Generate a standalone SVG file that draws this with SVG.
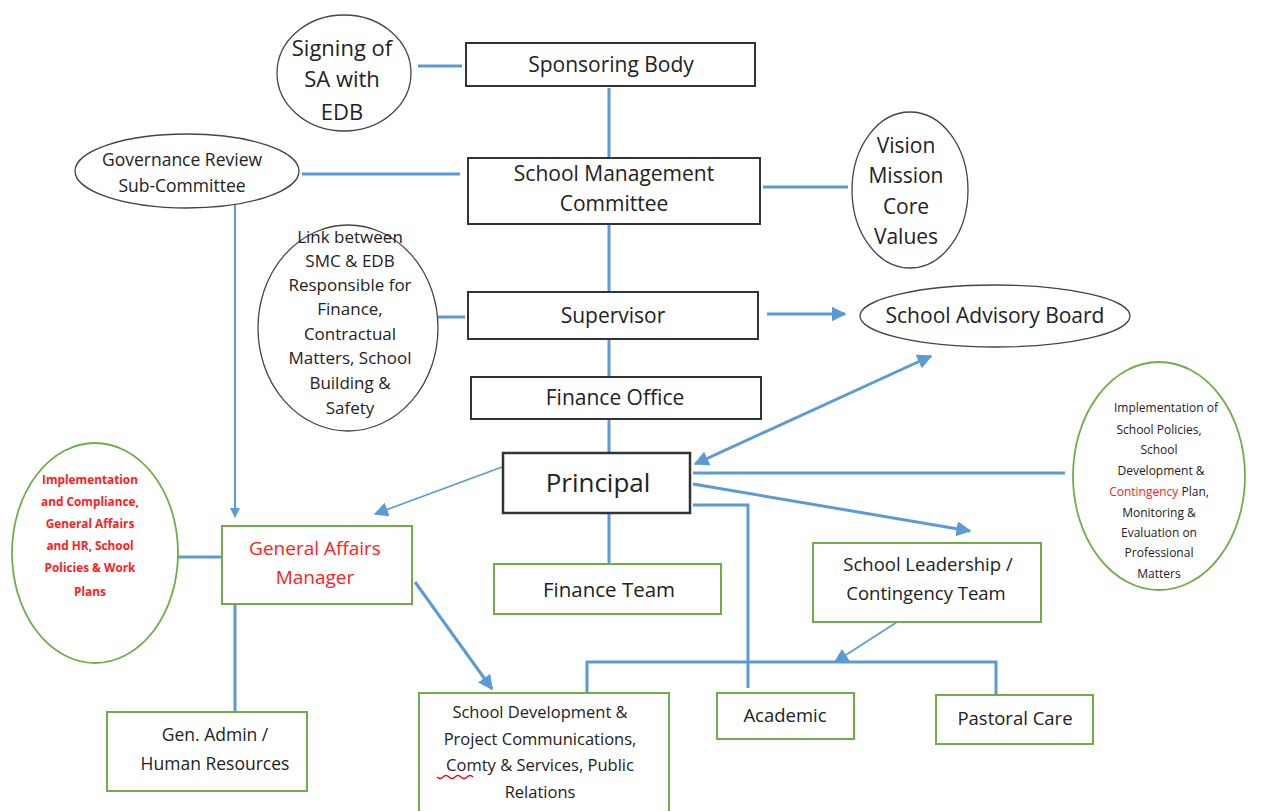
<svg xmlns="http://www.w3.org/2000/svg" width="1275" height="811" viewBox="0 0 1275 811">
<style>
text{font-family:"Open Sans","Liberation Sans",sans-serif;fill:#222;text-anchor:middle}
.bx{fill:#fff;stroke:#333;stroke-width:2}
.gb{fill:#fff;stroke:#70ad47;stroke-width:2}
.el{fill:#fff;stroke:#444;stroke-width:1.3}
.ge{fill:#fff;stroke:#70ad47;stroke-width:1.8}
.c{fill:none;stroke:#5b9bd5;stroke-width:3}
.ct{fill:none;stroke:#5b9bd5;stroke-width:1.6}
.red{fill:#ff2020}
</style>
<defs>
<marker id="ah" viewBox="0 0 10 10" refX="9" refY="5" markerWidth="5" markerHeight="5" orient="auto-start-reverse" markerUnits="strokeWidth"><path d="M0,0 L10,5 L0,10 z" fill="#5b9bd5"/></marker>
<marker id="aht" viewBox="0 0 10 10" refX="9" refY="5" markerWidth="9" markerHeight="9" orient="auto" markerUnits="strokeWidth"><path d="M0,0 L10,5 L0,10 z" fill="#5b9bd5"/></marker>
</defs>
<rect width="1275" height="811" fill="#fff"/>
<g id="connectors">
<line class="c" x1="418" y1="66" x2="462" y2="66"/>
<line class="c" x1="609" y1="158" x2="609" y2="88"/>
<line class="c" x1="302" y1="174" x2="460" y2="174"/>
<line class="c" x1="763" y1="187" x2="848" y2="187"/>
<line class="c" x1="609" y1="224" x2="609" y2="291"/>
<line class="c" x1="438" y1="317" x2="465" y2="317"/>
<line class="c" x1="767" y1="314" x2="845" y2="314" marker-end="url(#ah)"/>
<line class="c" x1="609" y1="340" x2="609" y2="376"/>
<line class="c" x1="609" y1="420" x2="609" y2="452"/>
<line class="c" x1="931" y1="356" x2="695" y2="464" marker-start="url(#ah)" marker-end="url(#ah)"/>
<line class="c" x1="693" y1="473" x2="1065" y2="473"/>
<line class="c" x1="693" y1="484" x2="970" y2="531" marker-end="url(#ah)"/>
<polyline class="c" points="693,505 748,505 748,688"/>
<line class="c" x1="609" y1="514" x2="609" y2="564"/>
<line class="ct" x1="502" y1="467" x2="375" y2="514" marker-end="url(#aht)"/>
<line class="c" x1="235" y1="186" x2="235" y2="517" style="stroke-width:2" marker-end="url(#ah)"/>
<line class="c" x1="178" y1="557" x2="222" y2="557"/>
<line class="c" x1="235" y1="604" x2="235" y2="712"/>
<line class="c" x1="415" y1="582" x2="492" y2="689" marker-end="url(#ah)"/>
<polyline class="c" points="587,692 587,662 996,662 996,696"/>
<line class="ct" x1="897" y1="622" x2="835" y2="662" marker-end="url(#aht)"/>
</g>
<g id="signing"><ellipse class="el" cx="344" cy="73" rx="67" ry="58"/>
<text x="342" y="56" font-size="22">Signing of</text><text x="342" y="87" font-size="22">SA with</text><text x="342" y="120" font-size="22">EDB</text></g>
<g id="sponsoring"><rect class="bx" x="466" y="43" width="289" height="43"/><text x="611" y="72" font-size="21">Sponsoring Body</text></g>
<g id="governance"><ellipse class="el" cx="187" cy="171" rx="112" ry="37"/>
<text x="182" y="166" font-size="17.5">Governance Review</text><text x="182" y="192" font-size="17.5">Sub-Committee</text></g>
<g id="smc"><rect class="bx" x="468" y="158" width="292" height="66"/>
<text x="614" y="181" font-size="21">School Management</text><text x="614" y="211" font-size="21">Committee</text></g>
<g id="vision"><ellipse class="el" cx="910" cy="190" rx="58" ry="78"/>
<text x="906" y="153" font-size="21">Vision</text><text x="906" y="183" font-size="21">Mission</text><text x="906" y="214" font-size="21">Core</text><text x="906" y="244" font-size="21">Values</text></g>
<g id="link"><ellipse class="el" cx="348" cy="328" rx="90" ry="103"/>
<g font-size="17"><text x="350" y="243">Link between</text><text x="350" y="267">SMC &amp; EDB</text><text x="350" y="291">Responsible for</text><text x="350" y="315">Finance,</text><text x="350" y="340">Contractual</text><text x="350" y="364">Matters, School</text><text x="350" y="389">Building &amp;</text><text x="350" y="414">Safety</text></g></g>
<g id="supervisor"><rect class="bx" x="468" y="292" width="290" height="47"/><text x="613" y="323" font-size="21">Supervisor</text></g>
<g id="advisory"><ellipse class="el" cx="995" cy="316" rx="135" ry="31"/><text x="995" y="323" font-size="21">School Advisory Board</text></g>
<g id="financeoffice"><rect class="bx" x="471" y="377" width="290" height="42"/><text x="615" y="405" font-size="21">Finance Office</text></g>
<g id="principal"><rect class="bx" x="503" y="453" width="187" height="60" style="stroke-width:2.5"/><text x="598" y="492" font-size="26">Principal</text></g>
<g id="rightnote"><ellipse class="ge" cx="1159" cy="476" rx="86" ry="114"/>
<g font-size="12"><text x="1166" y="412">Implementation of</text><text x="1159" y="434">School Policies,</text><text x="1159" y="454">School</text><text x="1161" y="475">Development &amp;</text><text x="1159" y="496"><tspan class="red">Contingency</tspan> Plan,</text><text x="1159" y="517">Monitoring &amp;</text><text x="1159" y="537">Evaluation on</text><text x="1159" y="557">Professional</text><text x="1159" y="578">Matters</text></g></g>
<g id="leftnote"><ellipse class="ge" cx="95" cy="553" rx="83" ry="110"/>
<g font-size="11.8" font-weight="bold"><text class="red" x="90" y="484">Implementation</text><text class="red" x="90" y="506">and Compliance,</text><text class="red" x="90" y="528">General Affairs</text><text class="red" x="90" y="550">and HR, School</text><text class="red" x="90" y="572">Policies &amp; Work</text><text class="red" x="90" y="596">Plans</text></g></g>
<g id="gam"><rect class="gb" x="222" y="526" width="190" height="78"/>
<text class="red" x="315" y="555" font-size="19">General Affairs</text><text class="red" x="315" y="584" font-size="19">Manager</text></g>
<g id="financeteam"><rect class="gb" x="494" y="564" width="227" height="50"/><text x="609" y="597" font-size="20.5">Finance Team</text></g>
<g id="leadership"><rect class="gb" x="813" y="543" width="228" height="79"/>
<text x="928" y="571" font-size="18.5">School Leadership /</text><text x="926" y="600" font-size="18.5">Contingency Team</text></g>
<g id="genadmin"><rect class="gb" x="107" y="712" width="200" height="79"/>
<text x="215" y="741" font-size="17.5">Gen. Admin /</text><text x="215" y="770" font-size="17.5">Human Resources</text></g>
<g id="schooldev"><rect class="gb" x="419" y="693" width="250" height="125"/>
<g font-size="16.5"><text x="540" y="718">School Development &amp;</text><text x="540" y="745">Project Communications,</text><text x="540" y="771">Comty &amp; Services, Public</text><text x="540" y="798">Relations</text></g>
<path d="M437,777 q3,3 6,0 t6,0 t6,0 t6,0 t6,0 t6,0" fill="none" stroke="#e00" stroke-width="1.2"/></g>
<g id="academic"><rect class="gb" x="717" y="693" width="137" height="46"/><text x="785" y="722" font-size="18.5">Academic</text></g>
<g id="pastoral"><rect class="gb" x="936" y="695" width="157" height="49"/><text x="1015" y="725" font-size="18.5">Pastoral Care</text></g>
</svg>
